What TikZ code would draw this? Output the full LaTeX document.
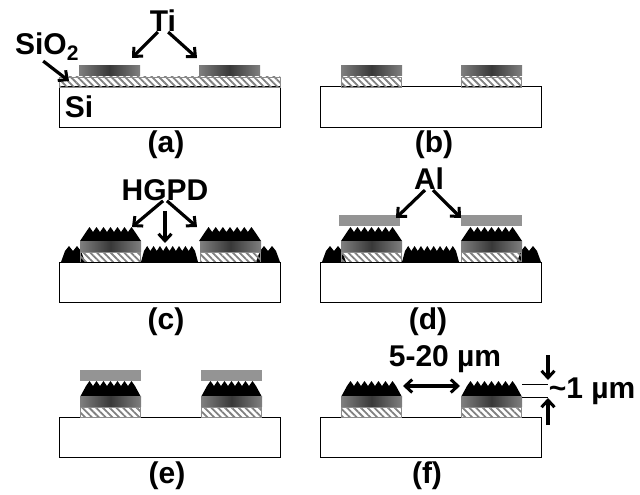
\documentclass[tikz,border=0pt]{standalone}
\usepackage{fontspec}
\setmainfont{Liberation Sans}
\usepackage{tikz}
\usetikzlibrary{arrows.meta,patterns.meta}

% Layers of one panel, all in the frame of panel (a)
\newcommand{\substrate}{\draw[wafer] (59,87) rectangle (280,127);}
\newcommand{\oxidepad}[1]{\draw[oxide] (#1,77) rectangle (#1+60,87);}
\newcommand{\tipad}[1]{\shade[metal] (#1,66) rectangle (#1+61,76);}
\newcommand{\alpad}[1]{\fill[alu] (#1,40) rectangle (#1+61,51);}
\newcommand{\stack}[1]{\oxidepad{#1}\tipad{#1}}
% left, right, base, peak, inset, number of teeth
\newcommand{\film}[6]{%
  \pgfmathsetmacro{\filmx}{#1+#5}
  \pgfmathsetmacro{\toothw}{(#2-#1-2*#5)/#6}
  \fill (#1,#3) -- (\filmx,#4+5)
    \foreach \k in {1,...,#6}{ -- (\filmx+\k*\toothw-\toothw/2,#4) -- (\filmx+\k*\toothw,#4+5) }
    -- (#2,#3) -- cycle;}

\begin{document}
\begin{tikzpicture}[
  x=1pt, y=-1pt,
  wafer/.style={draw, fill=white, line width=1pt},
  oxide/.style={draw=black!45, line width=0.6pt, pattern={Lines[angle=-45,distance=4.8pt,line width=1.8pt]}, pattern color=black!50},
  metal/.style={left color=black!50, right color=black!50, middle color=black!78},
  alu/.style={fill=black!42},
  lbl/.style={font=\fontsize{30}{31}\bfseries\selectfont, inner sep=0pt},
  arr/.style={-{Straight Barb[length=7pt,width=13pt,line width=3pt]}, line width=3.2pt},
  twoarr/.style={{Straight Barb[length=7pt,width=13pt,line width=3pt]}-{Straight Barb[length=7pt,width=13pt,line width=3pt]}, line width=3.2pt}
]
\useasboundingbox (0,0) rectangle (640,495);

% Panel a
\substrate
\draw[oxide] (59,77) rectangle (280,87);
\tipad{79}
\tipad{199}

% Panel b
\begin{scope}[shift={(261,0)}]
\substrate
\stack{80}
\stack{200}
\end{scope}

% Panel c
\begin{scope}[shift={(0,175)}]
\film{61}{85}{87}{71}{4}{2}
\film{141}{198}{87}{71}{3}{8}
\film{256}{280}{87}{71}{4}{2}
\film{80}{141}{66}{52}{6}{7}
\film{199}{261}{66}{52}{6}{7}
\stack{80}
\stack{200}
\substrate
\end{scope}

% Panel d
\begin{scope}[shift={(261,175)}]
\film{61}{85}{87}{71}{4}{2}
\film{141}{198}{87}{71}{3}{8}
\film{256}{280}{87}{71}{4}{2}
\film{80}{141}{66}{52}{6}{7}
\film{200}{261}{66}{52}{6}{7}
\stack{80}
\stack{200}
\alpad{78}
\alpad{200}
\substrate
\end{scope}

% Panel e
\begin{scope}[shift={(0,330)}]
\substrate
\film{80}{141}{67}{51}{6}{7}
\film{201}{262}{67}{51}{6}{7}
\stack{80}
\stack{201}
\alpad{80}
\alpad{201}
\end{scope}

% Panel f
\begin{scope}[shift={(261,330)}]
\substrate
\film{80}{141}{67}{51}{6}{7}
\film{200}{261}{67}{51}{6}{7}
\stack{80}
\stack{200}
\end{scope}

% Labels
\node[lbl] (ti) at (163,21) {Ti};
\node[lbl] (sio) at (47,47) {SiO\textsubscript{2}};
\node[lbl] (si) at (79,107) {Si};
\node[lbl] (hgpd) at (165,190) {HGPD};
\node[lbl] (al) at (429,179) {Al};
\node[lbl] (gap) at (445,359) {5-20 µm};
\node[lbl] (thick) at (592,391) {\textasciitilde 1 µm};
\node[lbl] (capa) at (166,145) {(a)};
\node[lbl] (capb) at (434,145) {(b)};
\node[lbl] (capc) at (166,322) {(c)};
\node[lbl] (capd) at (428,322) {(d)};
\node[lbl] (cape) at (167,476) {(e)};
\node[lbl] (capf) at (427,476) {(f)};

% Arrow ends
\coordinate (tiL) at (132,58);
\coordinate (tiR) at (197,58);
\coordinate (oxEnd) at (69,81);
\coordinate (hgL) at (132,227);
\coordinate (hgM) at (165,243);
\coordinate (hgR) at (197,227);
\coordinate (alL) at (396,218);
\coordinate (alR) at (461,218);
\coordinate (gapL) at (403,386);
\coordinate (gapR) at (460,386);
\coordinate (topA) at (548,355);
\coordinate (topB) at (548,380);
\coordinate (botA) at (548,425);
\coordinate (botB) at (548,398);
\coordinate (tickA) at (522,384);
\coordinate (tickB) at (522,397);

% Edges
\draw[arr] (ti.-115) -- (tiL);
\draw[arr] (ti.-65) -- (tiR);
\draw[arr] (sio.-105) -- (oxEnd);
\draw[arr] (hgpd.-100) -- (hgL);
\draw[arr] ([yshift=-10pt]hgpd.south) -- (hgM);
\draw[arr] (hgpd.-80) -- (hgR);
\draw[arr] (al.-110) -- (alL);
\draw[arr] (al.-70) -- (alR);
\draw[twoarr] (gapL) -- (gapR);
\draw[arr] (topA) -- (topB);
\draw[arr] (botA) -- (botB);
\draw[line width=1pt] (tickA) -- (topB |- tickA);
\draw[line width=1pt] (tickB) -- (topB |- tickB);

\end{tikzpicture}
\end{document}
